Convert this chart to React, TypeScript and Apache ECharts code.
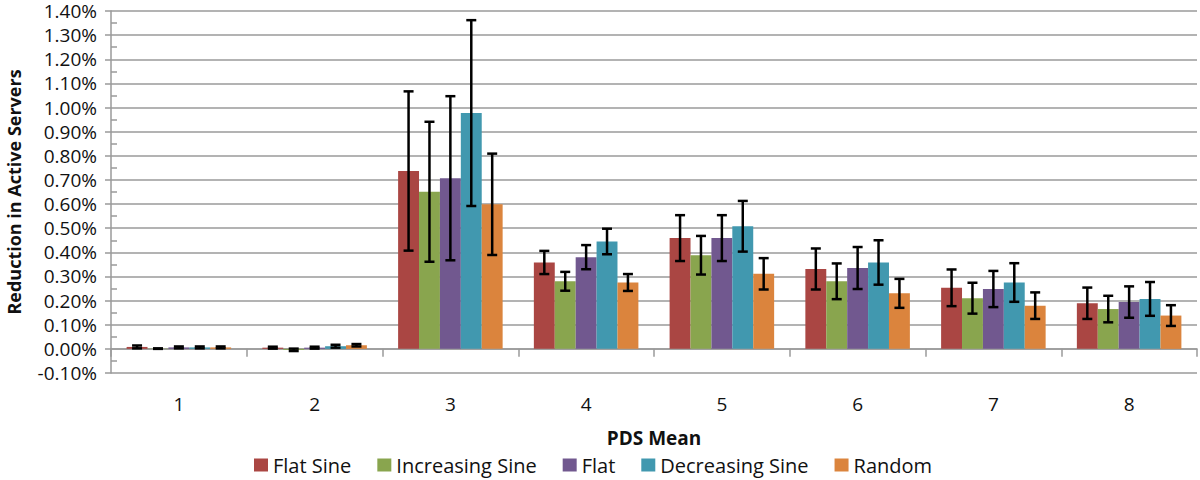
import React, { useEffect, useRef } from "react";
import * as echarts from "echarts";

const categories = ["1", "2", "3", "4", "5", "6", "7", "8"];
const seriesNames = ["Flat Sine", "Increasing Sine", "Flat", "Decreasing Sine", "Random"];
const colors = ["#AA4643", "#89A54E", "#71588F", "#4198AF", "#DB843D"];

const flatSine = [0.008, 0.005, 0.737, 0.358, 0.459, 0.331, 0.253, 0.189];
const flatSineErr = [0.006, 0.004, 0.33, 0.048, 0.095, 0.085, 0.076, 0.065];
const increasingSine = [0.001, -0.004, 0.651, 0.28, 0.388, 0.28, 0.21, 0.165];
const increasingSineErr = [0.001, 0.005, 0.29, 0.039, 0.08, 0.074, 0.064, 0.055];
const flat = [0.006, 0.005, 0.707, 0.38, 0.459, 0.335, 0.248, 0.194];
const flatErr = [0.004, 0.004, 0.34, 0.05, 0.095, 0.087, 0.075, 0.065];
const decreasingSine = [0.006, 0.011, 0.977, 0.445, 0.508, 0.358, 0.275, 0.207];
const decreasingSineErr = [0.004, 0.006, 0.385, 0.053, 0.105, 0.092, 0.08, 0.07];
const random = [0.006, 0.015, 0.599, 0.275, 0.311, 0.23, 0.179, 0.138];
const randomErr = [0.004, 0.005, 0.21, 0.035, 0.065, 0.06, 0.055, 0.043];

const yMin = -0.1;
const yMax = 1.4;
const yInterval = 0.1;

const FONT = "'Open Sans', 'Noto Sans', sans-serif";
const CAT_GAP = 0.23;

export default function App() {
  const ref = useRef<HTMLDivElement>(null);

  useEffect(() => {
    if (!ref.current) return;
    document.body.style.margin = "0";
    const chart = echarts.init(ref.current, undefined, { renderer: "svg" });
    const values = [flatSine, increasingSine, flat, decreasingSine, random];
    const errs = [flatSineErr, increasingSineErr, flatErr, decreasingSineErr, randomErr];
    const errData: number[][] = [];
    values.forEach((vals, s) => {
      vals.forEach((v, c) => {
        errData.push([c, s, v - errs[s][c], v + errs[s][c]]);
      });
    });
    const gray = "#9a9a9a";
    chart.setOption({
      animation: false,
      grid: { left: 111, right: 3, top: 11, bottom: 107, containLabel: false },
      legend: {
        data: seriesNames,
        left: 249,
        top: 450,
        itemWidth: 14,
        itemHeight: 13,
        itemGap: 26,
        icon: "rect",
        textStyle: { fontFamily: FONT, fontSize: 20, color: "#111" },
      },
      xAxis: {
        type: "category",
        data: categories,
        boundaryGap: true,
        axisLine: { show: true, onZero: true, lineStyle: { color: gray, width: 1.5 } },
        axisTick: { show: true, interval: 0, length: 8, lineStyle: { color: gray, width: 1.5 } },
        axisLabel: { interval: 0, margin: 21, fontFamily: FONT, fontSize: 19, color: "#111" },
        splitLine: { show: false },
      },
      yAxis: [
        {
          type: "value",
          min: yMin,
          max: yMax,
          interval: yInterval,
          position: "left",
          axisLine: { show: true, lineStyle: { color: gray, width: 1.5 } },
          axisTick: { show: true, length: 6, lineStyle: { color: gray, width: 1.5 } },
          axisLabel: {
            margin: 14,
            fontFamily: FONT,
            fontSize: 19,
            lineHeight: 19,
            color: "#111",
            formatter: (v: number) => v.toFixed(2) + "%",
          },
          splitLine: { show: true, lineStyle: { color: gray, width: 1.5 } },
        },
        {
          type: "value",
          min: yMin,
          max: yMax,
          interval: yInterval,
          position: "left",
          offset: 0,
          axisLine: { show: false },
          axisTick: { show: false, inside: true },
          minorTick: { show: true, splitNumber: 2, length: 6, lineStyle: { color: gray, width: 1.5 } },
          axisLabel: { show: false },
          splitLine: { show: false },
        },
      ],
      series: [
        ...values.map((vals, s) => ({
          name: seriesNames[s],
          type: "bar",
          data: vals,
          barGap: "0%",
          barCategoryGap: CAT_GAP * 100 + "%",
          itemStyle: { color: colors[s] },
          yAxisIndex: 0,
        })),
        {
          type: "custom",
          name: "errors",
          yAxisIndex: 0,
          data: errData,
          encode: { x: 0, y: [2, 3] },
          z: 10,
          renderItem: (params: any, api: any) => {
            const cat = api.value(0);
            const s = api.value(1);
            const lo = api.coord([cat, api.value(2)]);
            const hi = api.coord([cat, api.value(3)]);
            const bandW = api.size([1, 0])[0];
            const barW = (bandW * (1 - CAT_GAP)) / 5;
            const x = lo[0] + (s - 2) * barW;
            const cap = 5;
            const style = { stroke: "#000", lineWidth: 2.5 };
            return {
              type: "group",
              children: [
                { type: "line", shape: { x1: x, y1: hi[1], x2: x, y2: lo[1] }, style },
                { type: "line", shape: { x1: x - cap, y1: hi[1], x2: x + cap, y2: hi[1] }, style },
                { type: "line", shape: { x1: x - cap, y1: lo[1], x2: x + cap, y2: lo[1] }, style },
              ],
            };
          },
        },
      ],
      graphic: [
        {
          type: "text",
          x: 14,
          y: 192,
          rotation: Math.PI / 2,
          style: {
            text: "Reduction in Active Servers",
            fontFamily: FONT,
            fontSize: 18,
            fontWeight: "bold",
            fill: "#111",
            textAlign: "center",
            textVerticalAlign: "middle",
          },
        },
        {
          type: "text",
          x: 654,
          y: 438,
          style: {
            text: "PDS Mean",
            fontFamily: FONT,
            fontSize: 19,
            fontWeight: "bold",
            fill: "#111",
            textAlign: "center",
            textVerticalAlign: "middle",
          },
        },
      ],
    });
    return () => chart.dispose();
  }, []);

  return <div ref={ref} style={{ width: 1200, height: 480 }} />;
}
